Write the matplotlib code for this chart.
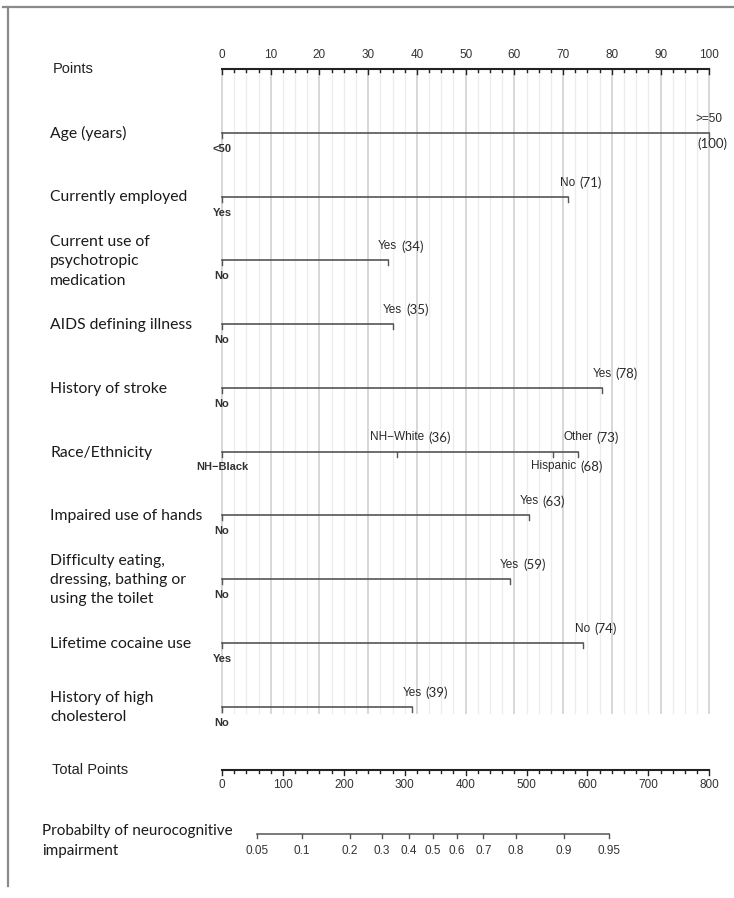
import matplotlib.pyplot as plt
import numpy as np

# Nomogram for neurocognitive impairment
predictors = ["Age (years)", "Currently employed",
              "Current use of\npsychotropic\nmedication",
              "AIDS defining illness", "History of stroke", "Race/Ethnicity",
              "Impaired use of hands",
              "Difficulty eating,\ndressing, bathing or\nusing the toilet",
              "Lifetime cocaine use", "History of high\ncholesterol"]
level_names = [["<50", ">=50"], ["Yes", "No"], ["No", "Yes"], ["No", "Yes"],
               ["No", "Yes"], ["NH\u2212Black", "NH\u2212White", "Hispanic", "Other"],
               ["No", "Yes"], ["No", "Yes"], ["Yes", "No"], ["No", "Yes"]]
level_points = [[0, 100], [0, 71], [0, 34], [0, 35], [0, 78], [0, 36, 68, 73],
                [0, 63], [0, 59], [0, 74], [0, 39]]
# levels printed under the line (reference level is always below)
below_levels = ["Hispanic"]

points_ticks = np.arange(0, 101, 10)
total_ticks = np.arange(0, 801, 100)
prob_ticks = [0.05, 0.1, 0.2, 0.3, 0.4, 0.5, 0.6, 0.7, 0.8, 0.9, 0.95]
prob_labels = ["0.05", "0.1", "0.2", "0.3", "0.4", "0.5", "0.6", "0.7", "0.8", "0.9", "0.95"]
# linear predictor: logit(p) = slope * (total - total_mid)
total_mid = 346.0
slope = 0.0102

LAB = "Lato"
ARI = "Liberation Sans"
ROW = 63.75  # pixels per row

fig = plt.figure(figsize=(7.34, 8.98), dpi=100)
ax = fig.add_axes([0, 0, 1, 1])
ax.set_xlim(-222 / 4.873, (734 - 222) / 4.873)
ax.set_ylim((898 - 69) / ROW, -69 / ROW)
ax.axis("off")

def px(n):
    return n / ROW

# frame
ax.plot([-45.0, 200], [px(7 - 69)] * 2, color="#8a8a8a", lw=1.6, clip_on=False)
ax.plot([(8 - 222) / 4.873] * 2, [px(7 - 69), px(886 - 69)], color="#8a8a8a", lw=1.6)

# vertical guide lines
n_rows = len(predictors)
grid_bottom = n_rows + px(6)
for g in np.arange(0, 100.01, 2.5):
    major = abs(g % 10) < 1e-9
    ax.plot([g, g], [0, grid_bottom], color="#d4d4d4" if major else "#ececec",
            lw=1.3 if major else 0.9, zorder=0)

# Points axis
ax.plot([0, 100], [0, 0], color="#222222", lw=1.5)
for t in np.arange(0, 100.01, 2.5):
    major = abs(t % 10) < 1e-9
    ax.plot([t, t], [0, px(5 if major else 3)], color="#222222", lw=1.0)
for t in points_ticks:
    ax.text(t, px(-14), str(t), ha="center", va="center", family=ARI, fontsize=8.5, color="#333333")
ax.text((53 - 222) / 4.873, 0, "Points", ha="left", va="center", family=ARI, fontsize=10.5, color="#222222")

# predictor scales
for i, (name, levs, pts) in enumerate(zip(predictors, level_names, level_points), start=1):
    ax.text((50 - 222) / 4.873, i + px(1), name, ha="left", va="center", family=LAB,
            fontsize=11.3, color="#1a1a1a", linespacing=1.5)
    ax.plot([0, max(pts)], [i, i], color="#555555", lw=1.2)
    for lev, p in zip(levs, pts):
        ax.plot([p, p], [i, i + px(5)], color="#555555", lw=1.0)
        if p == 0:
            ax.text(p, i + px(16), lev, ha="center", va="center", family=ARI,
                    fontsize=8, fontweight="bold", color="#333333")
            continue
        below = lev in below_levels
        t = ax.text(p, i + px(15 if below else -14), lev, ha="center", va="center",
                    family=ARI, fontsize=8.5, color="#2a2a2a")
        if p == 100:
            ax.text(p + 0.6, i + px(11), f"({p})", ha="center", va="center",
                    family=LAB, fontsize=9.5, color="#2a2a2a")
        else:
            ax.annotate(f"({p})", xy=(1, 0.5), xycoords=t, xytext=(4, 0),
                        textcoords="offset pixels", ha="left", va="center",
                        family=LAB, fontsize=9.5, color="#2a2a2a")

# Total Points axis
yt = n_rows + 1
scale = 100 / 800
ax.plot([0, 100], [yt, yt], color="#222222", lw=1.5)
for t in np.arange(0, 801, 20):
    major = t % 100 == 0
    ax.plot([t * scale] * 2, [yt, yt + px(5 if major else 3)], color="#222222", lw=1.0)
for t in total_ticks:
    ax.text(t * scale, yt + px(15), str(t), ha="center", va="center", family=ARI,
            fontsize=8.5, color="#333333")
ax.text((52 - 222) / 4.873, yt, "Total Points", ha="left", va="center", family=ARI,
        fontsize=10.5, color="#222222")

# probability axis
yp = n_rows + 2
prob = np.array(prob_ticks)
prob_x = (total_mid + np.log(prob / (1 - prob)) / slope) * scale
ax.plot([prob_x[0], prob_x[-1]], [yp, yp], color="#555555", lw=1.1)
for x, lab in zip(prob_x, prob_labels):
    ax.plot([x, x], [yp, yp + px(4)], color="#555555", lw=1.0)
    ax.text(x, yp + px(17), lab, ha="center", va="center", family=ARI, fontsize=8.5,
            color="#333333")
ax.text((42 - 222) / 4.873, yp + px(7), "Probabilty of neurocognitive\nimpairment",
        ha="left", va="center", family=LAB, fontsize=11, color="#1a1a1a", linespacing=1.5)

fig.savefig("out.png", dpi=100)
